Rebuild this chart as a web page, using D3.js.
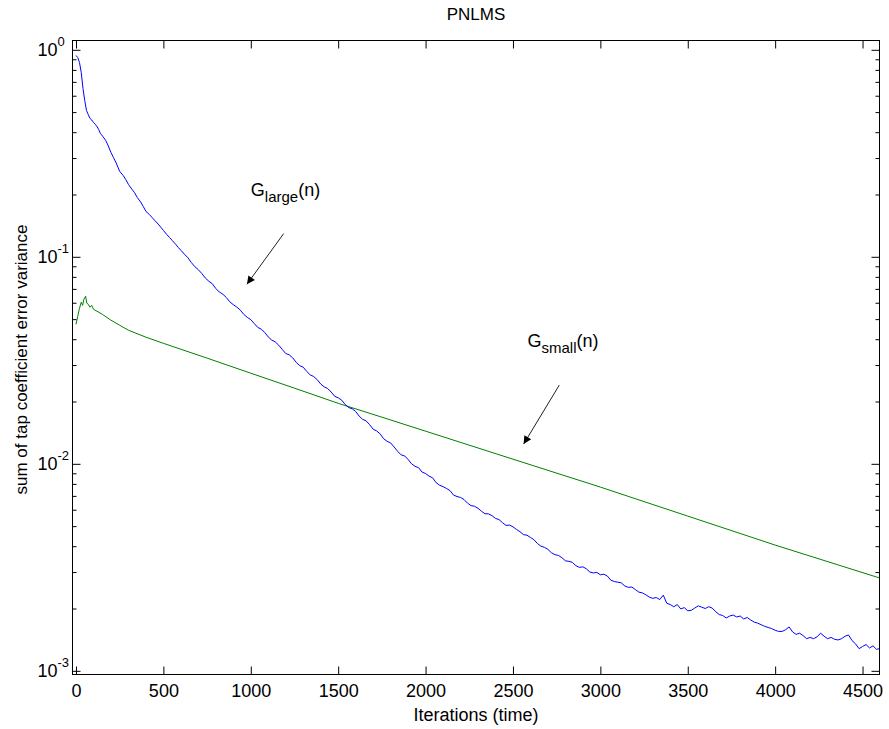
<!DOCTYPE html>
<html>
<head>
<meta charset="utf-8">
<script src="https://cdn.jsdelivr.net/npm/d3@7"></script>
<style>
  html, body { margin: 0; padding: 0; background: #fff; }
  svg { display: block; font-family: "Liberation Sans", Arial, Helvetica, sans-serif; }
</style>
</head>
<body>
<svg id="chart" width="889" height="729"></svg>
<script>
// ---------- data ----------
const chartTitle = "PNLMS";
const xLabel = "Iterations (time)";
const yLabel = "sum of tap coefficient error variance";
const xTicks = [0, 500, 1000, 1500, 2000, 2500, 3000, 3500, 4000, 4500];
const yMajorExp = [0, -1, -2, -3];
const xDomain = [-20, 4597];
const yDomain = [0.000960, 1.109];

// G_large(n)  [iteration, value]
const gLarge = [
  [0,.939],[10,.918],[20,.868],[30,.777],[40,.650],[50,.569],[60,.509],[70,.487],[80,.466],[90,.458],
  [100,.446],[110,.437],[120,.426],[130,.412],[140,.394],[155,.380],[170,.365],[185,.343],[200,.319],
  [215,.301],[230,.284],[250,.2586],[270,.247],[285,.236],[300,.2238],[320,.212],[335,.204],[350,.1937],
  [370,.184],[385,.175],[400,.1658],[420,.160],[435,.155],[450,.1500],[470,.144],[485,.139],[500,.1342],
  [520,.128],[535,.124],[550,.1201],[570,.115],[585,.111],[600,.1075],
  [620,.1030],[640,.0990],[660,.0938],[680,.0896],[700,.0866],
  [720,.0830],[740,.0790],[760,.0762],[780,.0741],[800,.0703],
  [820,.0676],[840,.0660],[860,.0636],[880,.0606],[900,.0587],
  [920,.0572],[940,.0553],[960,.0527],[980,.0510],[1000,.0497],
  [1020,.0476],[1040,.0456],[1060,.0447],[1080,.0431],[1100,.0410],
  [1120,.0396],[1140,.0388],[1160,.0374],[1180,.0357],[1200,.0341],
  [1220,.0336],[1240,.0325],[1260,.0309],[1280,.0298],[1300,.0293],
  [1320,.02795],[1340,.02690],[1360,.02640],[1380,.02550],[1400,.02430],
  [1420,.02355],[1440,.02310],[1460,.02222],[1480,.02120],[1500,.02085],
  [1520,.02030],[1540,.01935],[1560,.01870],[1580,.01845],[1600,.01790],
  [1620,.01700],[1640,.01640],[1660,.01612],[1680,.01545],[1700,.01470],
  [1720,.01442],[1740,.01395],[1760,.01322],[1780,.01284],[1800,.01262],
  [1820,.01206],[1840,.01150],[1860,.01105],[1880,.01092],[1900,.01050],
  [1920,.01000],[1940,.00972],[1960,.00958],[1980,.00912],[2000,.00898],
  [2020,.00872],[2040,.00856],[2060,.00812],[2080,.00788],[2100,.00776],
  [2120,.00760],[2140,.00742],[2160,.00706],[2180,.00695],[2200,.00688],
  [2220,.00672],[2240,.00646],[2260,.00628],[2280,.00624],[2300,.00610],
  [2320,.00590],[2340,.00574],[2360,.00573],[2380,.00562],[2400,.00545],
  [2420,.00538],[2440,.00520],[2460,.00504],[2480,.00506],[2500,.00496],
  [2520,.00482],[2540,.00470],[2560,.00455],[2580,.00452],[2600,.00441],
  [2620,.00430],[2640,.00412],[2660,.00400],[2680,.00395],[2700,.00386],
  [2720,.00372],[2740,.00364],[2760,.00361],[2780,.00352],[2800,.00340],
  [2820,.00338],[2840,.00334],[2860,.00322],[2880,.00316],[2900,.00318],
  [2920,.00311],[2940,.00300],[2960,.00297],[2980,.00299],[3000,.00291],
  [3020,.00293],[3040,.00287],[3060,.00274],[3080,.00270],[3100,.00268],
  [3120,.00266],[3140,.00257],[3160,.00253],[3180,.00254],[3200,.00247],
  [3220,.00240],[3240,.00238],[3260,.00233],[3280,.00227],[3300,.00224],
  [3320,.00226],[3340,.00221],[3360,.00232],[3380,.00212],[3400,.00209],
  [3420,.00204],[3440,.00209],[3460,.00199],[3480,.00202],[3500,.00195],
  [3520,.00196],[3540,.00201],[3560,.00206],[3580,.00203],[3600,.00200],
  [3620,.00204],[3640,.00201],[3660,.00193],[3680,.00187],[3700,.00185],
  [3720,.00180],[3740,.00184],[3760,.00186],[3780,.00182],[3800,.00184],
  [3820,.00178],[3840,.00181],[3860,.00176],[3880,.00172],[3900,.00170],
  [3920,.00167],[3940,.00164],[3960,.00162],[3980,.00160],[4000,.00157],
  [4020,.00155],[4040,.00155],[4060,.00158],[4080,.00163],[4100,.00154],
  [4120,.00150],[4140,.00152],[4160,.00148],[4180,.00143],[4200,.00145],
  [4220,.00143],[4240,.00146],[4260,.00152],[4280,.00147],[4300,.00143],
  [4320,.00145],[4340,.00142],[4360,.00141],[4380,.00143],[4400,.00147],
  [4420,.00149],[4440,.00140],[4460,.00135],[4480,.00128],[4500,.00131],
  [4520,.00134],[4540,.00129],[4560,.00132],[4580,.00127],[4597,.00128]
];

// G_small(n)  [iteration, value]
const gSmall = [
  [0,.0472],[10,.0516],[20,.0564],[30,.0603],[38,.0583],[45,.0623],[55,.0645],[62,.0597],
  [70,.0590],[80,.0571],[90,.0583],[100,.0558],[120,.0546],[150,.0528],[200,.0494],
  [250,.0467],[300,.0442],[400,.0409],[500,.0382],[750,.0324],[1000,.0274],[1250,.0232],
  [1500,.0196],[1750,.0168],[2000,.01438],[2500,.01053],[3000,.00772],[3500,.00559],
  [4000,.00405],[4597,.00281]
];

// annotations: [label, subscript, textIter, textVal, arrowFromIter, arrowFromVal, arrowToIter, arrowToVal]
const annotations = [
  ["G", "large", 1000, 0.196, 1188, 0.1294, 978, 0.0737],
  ["G", "small", 2583, 0.0368, 2765, 0.0240, 2561, 0.01245]
];

// ---------- layout ----------
const L = 72.5, R = 879.5, T = 40.5, B = 674.5;
const svg = d3.select("#chart");
const x = d3.scaleLinear().domain(xDomain).range([L, R]);
const y = d3.scaleLog().domain(yDomain).range([B, T]);

const yMajor = yMajorExp.map(e => Math.pow(10, e));
const yMinor = [];
for (let e = -3; e < 0; e++) for (let k = 2; k <= 9; k++) yMinor.push(k * Math.pow(10, e));

svg.append("defs").append("clipPath").attr("id", "clip")
  .append("rect").attr("x", L).attr("y", T).attr("width", R - L).attr("height", B - T);

// ---------- lines ----------
const line = d3.line().x(d => x(d[0])).y(d => y(d[1]));
const plot = svg.append("g").attr("clip-path", "url(#clip)");
plot.append("path").datum(gSmall).attr("d", line)
  .attr("fill", "none").attr("stroke", "#008000").attr("stroke-width", 1);
plot.append("path").datum(gLarge).attr("d", line)
  .attr("fill", "none").attr("stroke", "#0000ff").attr("stroke-width", 1);

// ---------- axes ----------
function styleAxis(g) {
  g.select(".domain").remove();
  g.selectAll(".tick line").attr("stroke", "#000").attr("stroke-width", 1);
  g.selectAll("text").attr("fill", "#000");
}
svg.append("g").attr("transform", `translate(0,${B})`)
  .call(d3.axisBottom(x).tickValues(xTicks).tickSizeInner(-8).tickSizeOuter(0).tickPadding(10)
    .tickFormat(d3.format("d")))
  .call(styleAxis)
  .call(g => g.selectAll("text").attr("font-size", 18).attr("font-family", "Liberation Sans, Arial, sans-serif"));
svg.append("g").attr("transform", `translate(0,${T})`)
  .call(d3.axisTop(x).tickValues(xTicks).tickSizeInner(-8).tickSizeOuter(0).tickFormat(""))
  .call(styleAxis);
svg.append("g").attr("transform", `translate(${L},0)`)
  .call(d3.axisLeft(y).tickValues(yMajor).tickSizeInner(-8).tickSizeOuter(0).tickFormat(""))
  .call(styleAxis);
svg.append("g").attr("transform", `translate(${L},0)`)
  .call(d3.axisLeft(y).tickValues(yMinor).tickSizeInner(-4).tickSizeOuter(0).tickFormat(""))
  .call(styleAxis);
svg.append("g").attr("transform", `translate(${R},0)`)
  .call(d3.axisRight(y).tickValues(yMajor).tickSizeInner(-8).tickSizeOuter(0).tickFormat(""))
  .call(styleAxis);
svg.append("g").attr("transform", `translate(${R},0)`)
  .call(d3.axisRight(y).tickValues(yMinor).tickSizeInner(-4).tickSizeOuter(0).tickFormat(""))
  .call(styleAxis);

// box
svg.append("rect").attr("x", L).attr("y", T).attr("width", R - L).attr("height", B - T)
  .attr("fill", "none").attr("stroke", "#000").attr("stroke-width", 1);

// y tick labels with superscripts
const yl = svg.append("g");
yMajorExp.forEach(e => {
  const yy = y(Math.pow(10, e));
  yl.append("text").attr("x", 57.5).attr("y", yy + 6.5).attr("text-anchor", "end")
    .attr("font-size", 18).text("10");
  yl.append("text").attr("x", 57.5).attr("y", yy - 4).attr("text-anchor", "start")
    .attr("font-size", 13).text(String(e));
});

// titles
svg.append("text").attr("x", (L + R) / 2).attr("y", 20).attr("text-anchor", "middle")
  .attr("font-size", 17).text(chartTitle);
svg.append("text").attr("x", (L + R) / 2).attr("y", 721).attr("text-anchor", "middle")
  .attr("font-size", 18).text(xLabel);
svg.append("text").attr("transform", `translate(27,${(T + B) / 2 + 2}) rotate(-90)`)
  .attr("text-anchor", "middle").attr("font-size", 17).text(yLabel);

// ---------- annotations ----------
svg.append("defs").append("marker").attr("id", "arrow")
  .attr("viewBox", "0 0 10 10").attr("refX", 10).attr("refY", 5)
  .attr("markerWidth", 12).attr("markerHeight", 8).attr("markerUnits", "userSpaceOnUse")
  .attr("orient", "auto")
  .append("path").attr("d", "M0,0 L10,5 L0,10 Z").attr("fill", "#000");

annotations.forEach(a => {
  const t = svg.append("text").attr("x", x(a[2])).attr("y", y(a[3])).attr("font-size", 18);
  t.append("tspan").text(a[0]);
  t.append("tspan").attr("dy", 6).attr("font-size", 15).text(a[1]);
  t.append("tspan").attr("dy", -6).text("(n)");
  svg.append("line").attr("x1", x(a[4])).attr("y1", y(a[5])).attr("x2", x(a[6])).attr("y2", y(a[7]))
    .attr("stroke", "#222").attr("stroke-width", 1).attr("marker-end", "url(#arrow)");
});
</script>
</body>
</html>
